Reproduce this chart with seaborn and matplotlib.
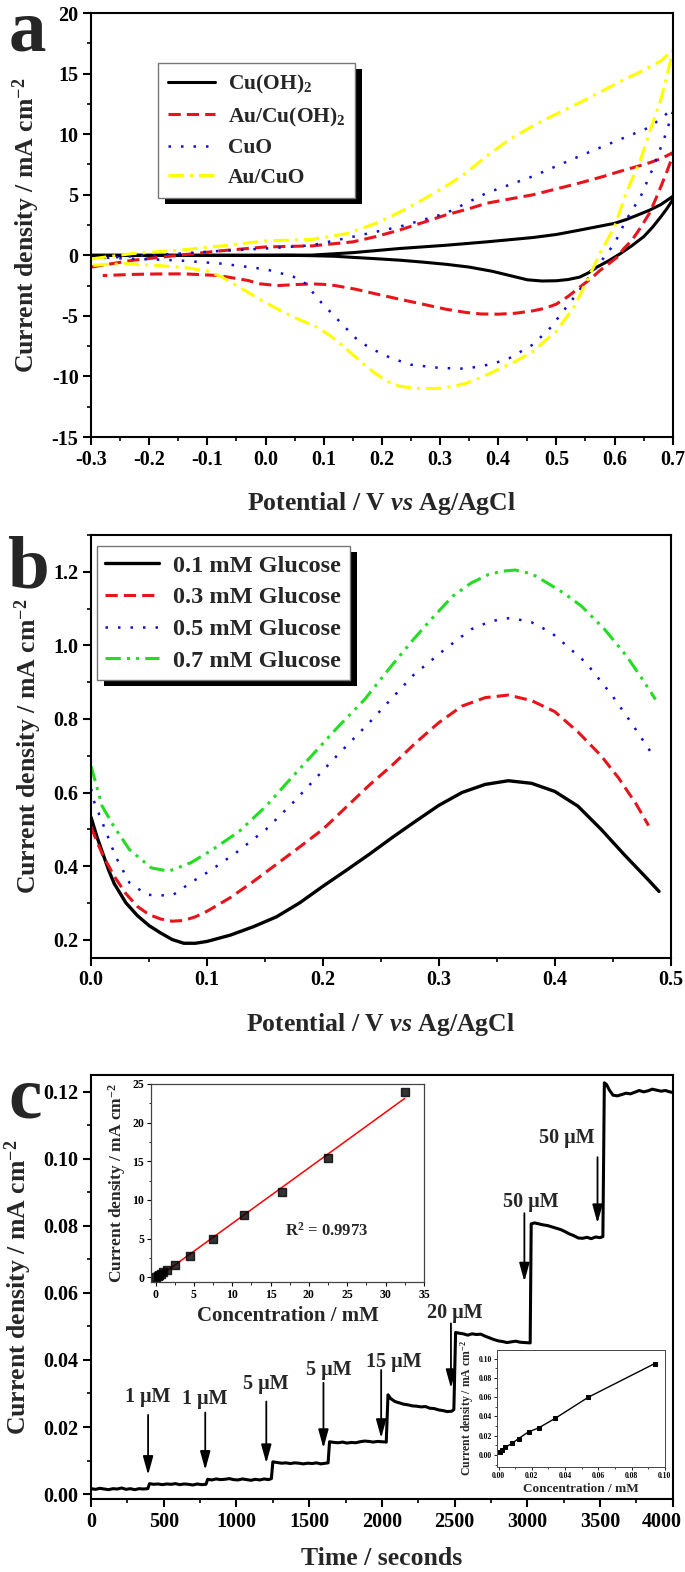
"""
Three stacked electrochemistry panels: CV curves (a), glucose CVs (b)
and the amperometric step response with two calibration insets (c).
"""

import matplotlib
matplotlib.use('Agg')
import matplotlib.pyplot as plt
from matplotlib.patches import Rectangle
from matplotlib.transforms import IdentityTransform, ScaledTranslation
from matplotlib.ticker import MultipleLocator
import seaborn as sns

# ---------------- panel a : cyclic voltammograms ----------------
cuoh_x = [-0.30, -0.20, -0.10, 0.00, 0.08, 0.15, 0.23, 0.31, 0.38, 0.46, 0.50, 0.54, 0.57, 0.60, 0.62, 0.64, 0.66,
          0.68, 0.70,
          0.70, 0.69, 0.68, 0.665, 0.65, 0.63, 0.61, 0.59, 0.57, 0.555, 0.54, 0.52, 0.50, 0.475, 0.45, 0.42, 0.39,
          0.35, 0.31, 0.27, 0.23, 0.19, 0.15, 0.12, 0.08, 0.04, -0.10, -0.20, -0.30]
cuoh_y = [0.00, 0.00, 0.00, 0.00, 0.02, 0.22, 0.56, 0.83, 1.11, 1.47, 1.72, 2.08, 2.36, 2.64, 2.95, 3.33, 3.72,
          4.20, 4.86,
          4.58, 3.85, 3.20, 2.30, 1.53, 0.80, 0.14, -0.45, -0.97, -1.45, -1.80, -2.00, -2.10, -2.12, -2.02, -1.67,
          -1.32, -0.97, -0.74, -0.56, -0.40, -0.28, -0.17, -0.08, -0.03, 0.00, 0.00, 0.00, 0.00]

au_cuoh_x = [-0.30, -0.23, -0.15, -0.08, 0.00, 0.08, 0.15, 0.19, 0.23, 0.27, 0.31, 0.35, 0.38, 0.42, 0.46, 0.50,
             0.54, 0.58, 0.61, 0.64, 0.66, 0.68, 0.70,
             0.70, 0.69, 0.68, 0.67, 0.66, 0.645, 0.63, 0.615, 0.605, 0.59, 0.575, 0.56, 0.54, 0.52, 0.50, 0.48,
             0.46, 0.43, 0.40, 0.37, 0.345, 0.31, 0.27, 0.23, 0.19, 0.155, 0.12, 0.10, 0.08, 0.05, 0.02, -0.01,
             -0.03, -0.08, -0.14, -0.19, -0.23, -0.28]
au_cuoh_y = [-0.97, -0.42, 0.00, 0.36, 0.69, 0.78, 1.11, 1.55, 2.08, 2.70, 3.33, 3.85, 4.30, 4.65, 5.00, 5.48,
             5.97, 6.50, 6.94, 7.35, 7.64, 7.98, 8.47,
             8.20, 6.90, 5.70, 4.55, 3.47, 2.30, 1.25, 0.50, -0.14, -0.70, -1.25, -1.90, -2.64, -3.40, -4.03, -4.38,
             -4.58, -4.78, -4.86, -4.84, -4.72, -4.45, -4.03, -3.62, -3.19, -2.80, -2.50, -2.40, -2.36, -2.42,
             -2.50, -2.35, -2.08, -1.67, -1.53, -1.54, -1.58, -1.67]

cuo_x = [-0.30, -0.23, -0.15, -0.08, 0.00, 0.08, 0.15, 0.23, 0.31, 0.38, 0.46, 0.54, 0.61, 0.66, 0.70,
         0.70, 0.685, 0.665, 0.645, 0.62, 0.60, 0.58, 0.56, 0.535, 0.51, 0.49, 0.46, 0.42, 0.39, 0.345, 0.30,
         0.25, 0.215, 0.185, 0.16, 0.14, 0.115, 0.09, 0.07, 0.047, 0.02, 0.00, -0.04, -0.075, -0.15, -0.23, -0.28]
cuo_y = [-0.28, -0.08, 0.14, 0.36, 0.56, 0.83, 1.53, 2.36, 3.47, 5.14, 6.53, 8.19, 9.58, 10.56, 12.08,
         11.80, 9.58, 7.08, 4.86, 2.92, 0.97, -0.30, -1.53, -3.19, -4.72, -5.97, -7.36, -8.47, -8.97, -9.36, -9.30,
         -9.03, -8.47, -7.78, -7.08, -6.10, -4.85, -3.60, -2.36, -1.75, -1.40, -1.15, -0.90, -0.69, -0.42, -0.28,
         -0.19]

au_cuo_x = [-0.30, -0.23, -0.15, -0.08, 0.00, 0.08, 0.14, 0.19, 0.23, 0.27, 0.31, 0.345, 0.38, 0.42, 0.46, 0.50,
            0.54, 0.575, 0.61, 0.65, 0.68, 0.70,
            0.70, 0.69, 0.68, 0.66, 0.645, 0.62, 0.60, 0.575, 0.55, 0.53, 0.50, 0.46, 0.43, 0.405, 0.375, 0.345,
            0.32, 0.30, 0.28, 0.255, 0.23, 0.21, 0.19, 0.17, 0.15, 0.13, 0.11, 0.09, 0.07, 0.05, 0.025, 0.00,
            -0.025, -0.05, -0.075, -0.10, -0.14, -0.19, -0.24, -0.30]
au_cuo_y = [-0.30, 0.14, 0.42, 0.75, 1.19, 1.31, 1.80, 2.64, 3.55, 4.58, 5.70, 6.80, 8.20, 9.58, 10.70, 11.67,
            12.60, 13.47, 14.35, 15.28, 16.05, 16.94,
            16.80, 14.80, 12.90, 10.14, 7.92, 5.14, 2.36, 0.14, -2.36, -4.30, -6.25, -7.92, -8.75, -9.30, -10.00,
            -10.56, -10.85, -10.97, -11.00, -10.97, -10.80, -10.42, -9.80, -9.03, -8.20, -7.36, -6.60, -5.97, -5.55,
            -5.14, -4.55, -3.90, -3.20, -2.50, -1.80, -1.30, -1.00, -0.83, -0.69, -0.83]

a_labels = ['Cu(OH)$_2$', 'Au/Cu(OH)$_2$', 'CuO', 'Au/CuO']
a_xticks = [-0.3, -0.2, -0.1, 0.0, 0.1, 0.2, 0.3, 0.4, 0.5, 0.6, 0.7]
a_yticks = [-15, -10, -5, 0, 5, 10, 15, 20]

# ---------------- panel b : glucose concentrations ----------------
g1_x = [0.0, 0.005, 0.01, 0.015, 0.02, 0.03, 0.04, 0.05, 0.06, 0.07, 0.08, 0.09, 0.10, 0.12, 0.14, 0.16, 0.18,
        0.20, 0.22, 0.24, 0.26, 0.28, 0.30, 0.32, 0.34, 0.36, 0.38, 0.40, 0.42, 0.44, 0.46, 0.48, 0.49]
g1_y = [0.532, 0.48, 0.435, 0.39, 0.352, 0.30, 0.265, 0.238, 0.218, 0.20, 0.19, 0.19, 0.195, 0.212, 0.235, 0.262,
        0.30, 0.345, 0.388, 0.432, 0.478, 0.522, 0.565, 0.60, 0.622, 0.632, 0.625, 0.603, 0.563, 0.50, 0.431,
        0.365, 0.331]
g3_x = [0.0, 0.01, 0.02, 0.03, 0.04, 0.05, 0.06, 0.07, 0.08, 0.09, 0.10, 0.12, 0.14, 0.16, 0.18, 0.20, 0.22, 0.24,
        0.26, 0.28, 0.30, 0.32, 0.34, 0.36, 0.38, 0.40, 0.42, 0.44, 0.455, 0.47, 0.481]
g3_y = [0.505, 0.43, 0.372, 0.325, 0.29, 0.268, 0.256, 0.25, 0.252, 0.262, 0.277, 0.314, 0.358, 0.405, 0.452,
        0.50, 0.56, 0.62, 0.675, 0.735, 0.79, 0.835, 0.858, 0.865, 0.85, 0.82, 0.765, 0.70, 0.64, 0.57, 0.51]
g5_x = [0.0, 0.002, 0.012, 0.021, 0.033, 0.048, 0.06, 0.071, 0.086, 0.102, 0.125, 0.151, 0.175, 0.209, 0.24,
        0.278, 0.305, 0.328, 0.345, 0.362, 0.38, 0.397, 0.41, 0.427, 0.45, 0.466, 0.485]
g5_y = [0.61, 0.58, 0.50, 0.427, 0.355, 0.322, 0.32, 0.322, 0.355, 0.386, 0.436, 0.50, 0.575, 0.69, 0.79,
        0.919, 0.989, 1.044, 1.066, 1.075, 1.063, 1.035, 1.00, 0.953, 0.862, 0.79, 0.70]
g7_x = [0.0, 0.0095, 0.0196, 0.033, 0.052, 0.067, 0.086, 0.105, 0.128, 0.151, 0.17, 0.19, 0.212, 0.236, 0.258,
        0.278, 0.296, 0.312, 0.328, 0.343, 0.355, 0.366, 0.38, 0.393, 0.408, 0.423, 0.443, 0.462, 0.474, 0.487]
g7_y = [0.671, 0.563, 0.508, 0.445, 0.395, 0.386, 0.409, 0.445, 0.495, 0.563, 0.63, 0.699, 0.775, 0.853, 0.94,
        1.016, 1.08, 1.134, 1.17, 1.193, 1.202, 1.205, 1.195, 1.171, 1.142, 1.107, 1.044, 0.971, 0.916, 0.853]

b_labels = ['0.1 mM Glucose', '0.3 mM Glucose', '0.5 mM Glucose', '0.7 mM Glucose']
b_xticks = [0.0, 0.1, 0.2, 0.3, 0.4, 0.5]
b_yticks = [0.2, 0.4, 0.6, 0.8, 1.0, 1.2]

# ---------------- panel c : amperometric response ----------------
time_s = [0, 30, 60, 90, 120, 150, 180, 210, 240, 270, 300, 330, 360, 390,
          402, 430, 460, 490, 520, 550, 580, 610, 640, 670, 700, 730, 760, 790,
          802, 830, 860, 890, 920, 950, 980, 1010, 1040, 1070, 1100, 1130, 1160, 1190, 1220, 1240,
          1250, 1280, 1310, 1340, 1370, 1400, 1430, 1460, 1490, 1520, 1550, 1580, 1610, 1630,
          1640, 1670, 1700, 1730, 1760, 1790, 1820, 1850, 1880, 1910, 1940, 1970, 2000, 2030,
          2042, 2060, 2090, 2120, 2150, 2180, 2210, 2240, 2270, 2300, 2330, 2360, 2390, 2420, 2450, 2480, 2495,
          2507, 2530, 2560, 2590, 2620, 2650, 2680, 2710, 2740, 2770, 2800, 2830, 2860, 2890, 2920, 2950, 2980, 3020,
          3027, 3050, 3080, 3110, 3140, 3170, 3200, 3230, 3260, 3290, 3320, 3350, 3380, 3410, 3440, 3470, 3500, 3520,
          3530, 3545, 3565, 3590, 3620, 3650, 3680, 3710, 3740, 3770, 3800, 3830, 3860, 3890, 3920, 3950, 3980, 4000]
current = [0.0016, 0.0014, 0.0017, 0.0015, 0.0013, 0.0016, 0.0015, 0.0018, 0.0014, 0.0016, 0.0013, 0.0016, 0.0015, 0.0016,
           0.0031, 0.0029, 0.0030, 0.0028, 0.0030, 0.0029, 0.0031, 0.0028, 0.0030, 0.0029, 0.0027, 0.0030, 0.0028, 0.0029,
           0.0044, 0.0042, 0.0045, 0.0043, 0.0044, 0.0046, 0.0043, 0.0042, 0.0045, 0.0043, 0.0041, 0.0044, 0.0042, 0.0045,
           0.0043, 0.0046,
           0.0096, 0.0094, 0.0092, 0.0093, 0.0091, 0.0093, 0.0092, 0.0090, 0.0092, 0.0091, 0.0093, 0.0090, 0.0092, 0.0093,
           0.0156, 0.0154, 0.0153, 0.0155, 0.0152, 0.0154, 0.0153, 0.0156, 0.0158, 0.0157, 0.0155, 0.0157, 0.0156, 0.0155,
           0.0296, 0.0285, 0.0276, 0.0272, 0.0268, 0.0266, 0.0263, 0.0262, 0.0260, 0.0261, 0.0256, 0.0255, 0.0251, 0.0249,
           0.0246, 0.0247, 0.0252,
           0.0482, 0.0480, 0.0478, 0.0474, 0.0478, 0.0476, 0.0477, 0.0471, 0.0466, 0.0461, 0.0457, 0.0455, 0.0452, 0.0454,
           0.0456, 0.0453, 0.0452, 0.0451,
           0.0806, 0.0809, 0.0806, 0.0803, 0.0801, 0.0797, 0.0793, 0.0789, 0.0783, 0.0776, 0.0771, 0.0764, 0.0763, 0.0766,
           0.0762, 0.0767, 0.0765, 0.0768,
           0.1227, 0.1222, 0.1205, 0.1190, 0.1188, 0.1192, 0.1196, 0.1194, 0.1199, 0.1204, 0.1200, 0.1203, 0.1208, 0.1205,
           0.1202, 0.1204, 0.1200, 0.1198]

add_labels = ['1 μM', '1 μM', '5 μM', '5 μM', '15 μM', '20 μM', '50 μM', '50 μM']
arrow_t = [392, 785, 1205, 1598, 1995, 2475, 2980, 3483]
arrow_top = [0.0236, 0.0243, 0.0276, 0.0332, 0.0370, 0.0509, 0.0838, 0.1005]
arrow_tip = [0.0057, 0.0072, 0.0092, 0.0137, 0.0167, 0.0316, 0.0634, 0.0808]
label_t = [392, 785, 1201, 1635, 2084, 2505, 3025, 3273]
label_j = [0.0290, 0.0284, 0.0328, 0.0370, 0.0395, 0.0540, 0.0872, 0.1061]

c_xticks = [0, 500, 1000, 1500, 2000, 2500, 3000, 3500, 4000]
c_yticks = [0.00, 0.02, 0.04, 0.06, 0.08, 0.10, 0.12]

# inset calibration (mM range)
cal_conc = [0.1, 0.3, 0.5, 0.7, 1.0, 1.5, 2.5, 4.5, 7.5, 11.5, 16.5, 22.5, 32.5]
cal_j = [0.0, 0.15, 0.3, 0.45, 0.65, 1.0, 1.6, 2.7, 4.9, 8.1, 11.0, 15.4, 23.9]
r2_text = 'R$^2$ = 0.9973'

# inset calibration (low range)
low_conc = [0.001, 0.002, 0.004, 0.008, 0.012, 0.018, 0.024, 0.034, 0.054, 0.094]
low_j = [0.003, 0.005, 0.008, 0.012, 0.017, 0.024, 0.028, 0.038, 0.060, 0.095]
low_ticks = [0.00, 0.02, 0.04, 0.06, 0.08, 0.10]

ylab = 'Current density / mA cm$^{-2}$'
xlab_pot = 'Potential / V $\\mathit{vs}$ Ag/AgCl'

# ---------------- style ----------------
sns.set_style('ticks')
plt.rcParams['font.family'] = ['Liberation Serif', 'DejaVu Serif']
plt.rcParams['font.weight'] = 'bold'
plt.rcParams['axes.labelweight'] = 'bold'
plt.rcParams['mathtext.fontset'] = 'custom'
plt.rcParams['mathtext.rm'] = 'Liberation Serif:bold'
plt.rcParams['mathtext.bf'] = 'Liberation Serif:bold'
plt.rcParams['mathtext.it'] = 'Liberation Serif:italic:bold'
plt.rcParams['mathtext.default'] = 'rm'
plt.rcParams['axes.unicode_minus'] = False
plt.rcParams['axes.edgecolor'] = 'black'
plt.rcParams['xtick.color'] = 'black'
plt.rcParams['ytick.color'] = 'black'

fig = plt.figure(figsize=(6.85, 15.72), dpi=100)


def style_main(ax, xticks, yticks, xminor, yminor, xfmt, yfmt):
    for sp in ax.spines.values():
        sp.set_linewidth(1.5)
    ax.set_xticks(xticks)
    ax.set_yticks(yticks)
    ax.set_xticklabels([xfmt.format(v) for v in xticks])
    ax.set_yticklabels([yfmt.format(v) for v in yticks])
    ax.xaxis.set_minor_locator(MultipleLocator(xminor))
    ax.yaxis.set_minor_locator(MultipleLocator(yminor))
    ax.tick_params(which='major', direction='out', length=5.5, width=1.5, labelsize=14.5, pad=3.5)
    ax.tick_params(which='minor', direction='out', length=3, width=1.2)
    for lab in ax.get_xticklabels() + ax.get_yticklabels():
        lab.set_fontweight('bold')


def shadow_legend(ax, leg, dx=7, dy=6):
    fig.canvas.draw()
    bb = leg.get_window_extent()
    rect = Rectangle((bb.x0 + dx, bb.y0 - dy), bb.width, bb.height, transform=IdentityTransform(),
                     facecolor='black', edgecolor='none', zorder=4.9)
    ax.add_artist(rect)


# ---------------- panel a ----------------
ax_a = fig.add_axes([0.133, 0.722, 0.849, 0.2697])
a_series = [(cuoh_x, cuoh_y, 'black', '-', 2.2),
            (au_cuoh_x, au_cuoh_y, '#e8141c', (0, (4, 2)), 2.2),
            (cuo_x, cuo_y, '#1010d0', (0, (1, 4)), 1.8),
            (au_cuo_x, au_cuo_y, '#ffff00', (0, (5, 2, 1, 2)), 2.2)]
for (xs, ys, col, ls, lw), lab in zip(a_series, a_labels):
    sns.lineplot(x=xs, y=ys, sort=False, estimator=None, ax=ax_a, color=col, linestyle=ls, lw=lw, label=lab)
ax_a.set_xlim(-0.3, 0.7)
ax_a.set_ylim(-15, 20)
style_main(ax_a, a_xticks, a_yticks, 0.05, 2.5, '{:.1f}', '{:d}')
ax_a.set_xlabel(xlab_pot, fontsize=18.5, labelpad=15)
ax_a.set_ylabel(ylab, fontsize=18.5, labelpad=7)
leg_a = ax_a.legend(loc='upper left', bbox_to_anchor=(0.115, 0.882), borderaxespad=0, fancybox=False,
                    edgecolor='#777777', framealpha=1, fontsize=15.5, handlelength=2.2, labelspacing=0.45,
                    borderpad=0.45, handletextpad=0.6)
leg_a.get_frame().set_linewidth(1.0)
fig.text(0.012, 0.968, 'a', fontsize=54, fontweight='bold', va='baseline')

# ---------------- panel b ----------------
ax_b = fig.add_axes([0.133, 0.3906, 0.846, 0.269])
b_series = [(g1_x, g1_y, 'black', '-', 2.4),
            (g3_x, g3_y, '#e8141c', (0, (4, 2)), 2.2),
            (g5_x, g5_y, '#1010d0', (0, (1, 4)), 1.8),
            (g7_x, g7_y, '#22dd22', (0, (5, 2, 1, 2, 1, 2)), 2.2)]
for (xs, ys, col, ls, lw), lab in zip(b_series, b_labels):
    sns.lineplot(x=xs, y=ys, sort=False, estimator=None, ax=ax_b, color=col, linestyle=ls, lw=lw, label=lab)
ax_b.set_xlim(0, 0.5)
ax_b.set_ylim(0.15, 1.3)
style_main(ax_b, b_xticks, b_yticks, 0.05, 0.1, '{:.1f}', '{:.1f}')
ax_b.set_xlabel(xlab_pot, fontsize=18.5, labelpad=15)
ax_b.set_ylabel(ylab, fontsize=18.5, labelpad=7)
leg_b = ax_b.legend(loc='upper left', bbox_to_anchor=(0.01, 0.974), borderaxespad=0, fancybox=False,
                    edgecolor='#777777', framealpha=1, fontsize=17.5, handlelength=2.2, labelspacing=0.4,
                    borderpad=0.35, handletextpad=0.6)
leg_b.get_frame().set_linewidth(1.0)
fig.text(0.012, 0.626, 'b', fontsize=54, fontweight='bold', va='baseline')

# ---------------- panel c ----------------
ax_c = fig.add_axes([0.133, 0.0464, 0.849, 0.2697])
sns.lineplot(x=time_s, y=current, sort=False, estimator=None, ax=ax_c, color='black', lw=2.2)
ax_c.set_xlim(0, 4000)
ax_c.set_ylim(-0.0015, 0.125)
style_main(ax_c, c_xticks, c_yticks, 250, 0.01, '{:d}', '{:.2f}')
ax_c.set_xlabel('Time / seconds', fontsize=18.5, labelpad=11)
ax_c.set_ylabel(ylab, fontsize=18.5, labelpad=7)
# nudge the last time label so it stays inside the figure
last = ax_c.get_xticklabels()[-1]
last.set_transform(last.get_transform() + ScaledTranslation(-8 / 72, 0, fig.dpi_scale_trans))
for t, top, tip, lab, lt, lj in zip(arrow_t, arrow_top, arrow_tip, add_labels, label_t, label_j):
    ax_c.annotate('', xy=(t, tip), xytext=(t, top),
                  arrowprops=dict(arrowstyle='-|>,head_length=0.8,head_width=0.22', color='black',
                                  lw=1.3, mutation_scale=14, shrinkA=0, shrinkB=0))
    ax_c.text(lt, lj, lab, ha='center', va='center', fontsize=14.5, fontweight='bold')
fig.text(0.012, 0.289, 'c', fontsize=54, fontweight='bold', va='baseline')

# inset 1: calibration over mM range
ax_i1 = fig.add_axes([0.2204, 0.1845, 0.3985, 0.126])
sns.regplot(x=cal_conc, y=cal_j, ax=ax_i1, ci=None, color='black', marker='s',
            scatter_kws={'s': 30, 'zorder': 3}, line_kws={'color': 'red', 'lw': 1.1, 'zorder': 2})
ax_i1.set_xlim(-0.6, 35)
ax_i1.set_ylim(-0.6, 25)
ax_i1.set_xticks([0, 5, 10, 15, 20, 25, 30, 35])
ax_i1.set_yticks([0, 5, 10, 15, 20, 25])
ax_i1.xaxis.set_minor_locator(MultipleLocator(2.5))
ax_i1.yaxis.set_minor_locator(MultipleLocator(2.5))
ax_i1.tick_params(which='major', length=3, width=0.8, labelsize=8.5, pad=2)
ax_i1.tick_params(which='minor', length=1.8, width=0.6)
for sp in ax_i1.spines.values():
    sp.set_linewidth(0.9)
    sp.set_color('#444444')
ax_i1.set_xlabel('Concentration / mM', fontsize=15, labelpad=4)
ax_i1.set_ylabel(ylab, fontsize=12.5, labelpad=3)
ax_i1.text(22.3, 6.06, r2_text, ha='center', va='center', fontsize=12, fontweight='bold')

# inset 2: calibration at low concentration
ax_i2 = fig.add_axes([0.7255, 0.0668, 0.245, 0.0744])
sns.lineplot(x=low_conc, y=low_j, sort=False, estimator=None, ax=ax_i2, color='black', lw=1.0,
             marker='s', markersize=3.2, markeredgecolor='black')
ax_i2.set_xlim(-0.001, 0.1)
ax_i2.set_ylim(-0.0125, 0.109)
ax_i2.set_xticks(low_ticks)
ax_i2.set_yticks(low_ticks)
ax_i2.set_xticklabels(['{:.2f}'.format(v) for v in low_ticks])
ax_i2.set_yticklabels(['{:.2f}'.format(v) for v in low_ticks])
ax_i2.xaxis.set_minor_locator(MultipleLocator(0.01))
ax_i2.yaxis.set_minor_locator(MultipleLocator(0.01))
ax_i2.tick_params(which='major', length=2, width=0.6, labelsize=5.5, pad=1.5)
ax_i2.tick_params(which='minor', length=1.2, width=0.5)
for sp in ax_i2.spines.values():
    sp.set_linewidth(0.7)
    sp.set_color('#444444')
ax_i2.set_xlabel('Concentration / mM', fontsize=9.5, labelpad=2)
ax_i2.set_ylabel(ylab, fontsize=8.5, labelpad=2)

shadow_legend(ax_a, leg_a)
shadow_legend(ax_b, leg_b)

fig.savefig('out.png', dpi=100)
